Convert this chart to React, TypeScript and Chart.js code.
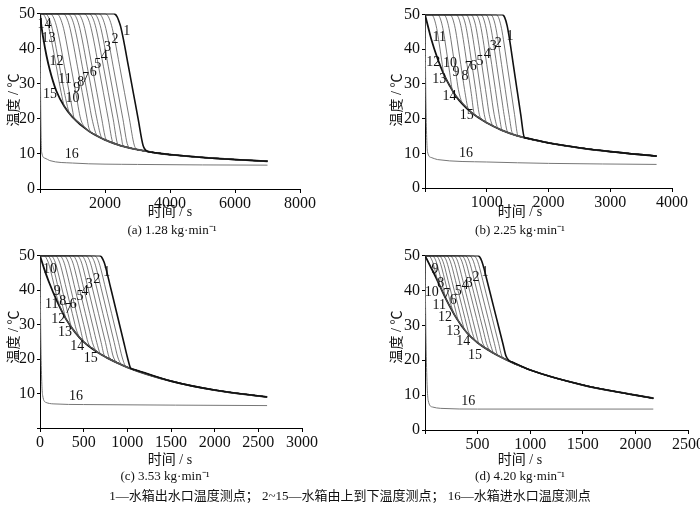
import React, { useEffect, useRef } from "react";
import { Chart, registerables } from "chart.js";
Chart.register(...registerables);

// ---- data ----
// envelope (curve 15) [time s, temperature ℃]
const envA: number[][] = [[0,50],[50,46],[100,43],[200,38],[300,34],[500,28],[750,23.5],[1000,20.5],[1500,16.5],[2000,14],[2500,12.3],[3000,11.2],[3500,10.4],[4000,9.8],[5000,9],[6000,8.4],[7000,7.9]];
const envB: number[][] = [[0,50],[50,46.5],[100,43],[200,37.5],[300,33],[400,29.5],[500,26.5],[750,21.8],[1000,18.8],[1250,16.6],[1500,15],[2000,13],[2500,11.6],[3000,10.5],[3750,9.2]];
const envC: number[][] = [[0,50],[50,46],[100,42.5],[200,36.5],[300,31.5],[400,27.8],[500,25],[700,21.3],[1000,17.6],[1500,13.6],[2000,11],[2600,9]];
const envD: number[][] = [[0,50],[50,47],[100,44],[200,37.5],[300,32],[400,27.8],[500,25],[700,21.2],[1000,17.2],[1500,12.9],[2000,10],[2170,9.1]];
// curve 16 (inlet)
const inA: number[][] = [[0,50],[20,25],[50,10.5],[150,8.8],[300,8.1],[1000,7.4],[3000,7],[7000,6.8]];
const inB: number[][] = [[0,50],[15,25],[40,10.5],[100,8.8],[200,8.2],[1000,7.5],[2000,7.1],[3750,6.8]];
const inC: number[][] = [[0,50],[10,25],[30,9.5],[70,7.4],[150,7],[500,6.8],[2600,6.5]];
const inD: number[][] = [[0,50],[10,25],[30,8.5],[70,6.6],[150,6.2],[500,6],[2170,6]];
// departure time (s) of curves 1..14 from the 50 ℃ plateau
const departA = [2270, 2000, 1800, 1650, 1500, 1350, 1150, 1000, 850, 700, 500, 300, 150, 50];
const departB = [1250, 1150, 1060, 980, 900, 820, 740, 660, 580, 500, 400, 300, 200, 100];
const departC = [680, 620, 570, 520, 470, 420, 370, 320, 270, 220, 170, 120, 80, 40];
const departD = [500, 460, 420, 380, 345, 310, 270, 235, 200, 165, 130, 100, 65, 30];
// label positions [text, time, temperature]
const labA: [string, number, number][] = [["1",2667,44.9],["2",2308,42.8],["3",2080,40.3],["4",1980,37.8],["5",1775,35.5],["6",1640,33.4],["7",1400,31.6],["8",1250,30.3],["9",1130,28.6],["10",1000,25.8],["11",770,31.2],["12",510,36.5],["13",260,43],["14",140,47],["15",310,26.9],["16",975,9.8]];
const labB: [string, number, number][] = [["1",1376,43.7],["2",1188,41.6],["3",1106,40.9],["4",1010,38.6],["5",891,36.4],["6",783,35.2],["7",702,34.8],["8",648,32.3],["9",502,33.4],["10",405,36],["11",232,43.5],["12",135,36.2],["13",232,31.4],["14",395,26.5],["15",675,20.9],["16",664,10]];
const labC: [string, number, number][] = [["1",764,45.1],["2",649,43],["3",565,41.8],["4",515,39.7],["5",458,38.3],["6",382,35.9],["7",324,34.5],["8",260,36.6],["9",198,39.7],["10",115,46],["11",134,35.9],["12",210,31.4],["13",286,27.8],["14",427,23.6],["15",581,20.3],["16",412,9.1]];
const labD: [string, number, number][] = [["1",570,45.1],["2",485,43.7],["3",421,42.1],["4",380,41.4],["5",317,39.8],["6",269,37.3],["7",206,38.8],["8",149,42],["9",95,46],["10",64,39.5],["11",136,35.8],["12",190,32.4],["13",269,28.3],["14",364,25.3],["15",475,21.4],["16",412,8.2]];

type P = { env: number[][]; inlet: number[][]; depart: number[]; rate: number; w: number; labels: [string, number, number][];
  xmax: number; step: number; hideX0: boolean; hideY0: boolean; box: [number, number, number, number] };

const panels: P[] = [
  { env: envA, inlet: inA, depart: departA, rate: 0.05, w: 300, labels: labA, xmax: 8000, step: 1000, hideX0: true, hideY0: false, box: [40, 10, 300, 189] },
  { env: envB, inlet: inB, depart: departB, rate: 0.12, w: 120, labels: labB, xmax: 4000, step: 500, hideX0: true, hideY0: false, box: [425, 11, 672, 188] },
  { env: envC, inlet: inC, depart: departC, rate: 0.105, w: 80, labels: labC, xmax: 3000, step: 500, hideX0: false, hideY0: true, box: [40, 252, 302, 428] },
  { env: envD, inlet: inD, depart: departD, rate: 0.12, w: 60, labels: labD, xmax: 2500, step: 500, hideX0: true, hideY0: false, box: [425, 252, 688, 430] },
];

function envAt(env: number[][], t: number) {
  for (let i = 1; i < env.length; i++) {
    if (t <= env[i][0]) {
      const [t0, y0] = env[i - 1], [t1, y1] = env[i];
      return y0 + ((y1 - y0) * (t - t0)) / (t1 - t0);
    }
  }
  return env[env.length - 1][1];
}

function curve(p: P, d: number) {
  const drop = (t: number) => {
    if (t <= d) return 50;
    const u = t - d;
    if (u < p.w) return 50 - (p.rate * u * u) / (2 * p.w);
    return 50 - (p.rate * p.w) / 2 - p.rate * (u - p.w);
  };
  const ts = new Set<number>(p.env.map((e) => e[0]));
  [d, d + p.w / 3, d + (2 * p.w) / 3, d + p.w].forEach((t) => ts.add(t));
  const tEnd = p.env[p.env.length - 1][0];
  for (let k = 1; k < 12; k++) ts.add(d + p.w + (k * p.w) / 2);
  const arr = Array.from(ts).filter((t) => t <= tEnd).sort((a, b) => a - b);
  const pts = arr.map((t) => ({ x: t, y: Math.max(envAt(p.env, t), drop(t)) }));
  // drop redundant envelope points after joining except keep envelope ones
  return pts;
}

const serif = "'Liberation Serif', 'Noto Sans CJK SC', serif";

function Panel({ p }: { p: P }) {
  const ref = useRef<HTMLCanvasElement>(null);
  const [l, t, r, b] = p.box;
  const W = r - l + 40 + 20, H = b - t + 8 + 30;
  useEffect(() => {
    const datasets: any[] = [];
    p.depart.forEach((d, i) => {
      datasets.push({ data: curve(p, d), borderColor: i === 0 ? "#111" : "#555", borderWidth: i === 0 ? 1.6 : 0.8 });
    });
    datasets.push({ data: p.env.map((e) => ({ x: e[0], y: e[1] })), borderColor: "#111", borderWidth: 1.8 });
    datasets.push({ data: p.inlet.map((e) => ({ x: e[0], y: e[1] })), borderColor: "#777", borderWidth: 1 });
    datasets.forEach((ds) => { ds.pointRadius = 0; ds.fill = false; ds.cubicInterpolationMode = "monotone"; });
    const labelPlugin = {
      id: "labs",
      afterDatasetsDraw(chart: any) {
        const ctx = chart.ctx, xs = chart.scales.x, ys = chart.scales.y;
        ctx.save();
        ctx.font = "14px " + serif;
        ctx.fillStyle = "#111";
        ctx.textAlign = "center";
        ctx.textBaseline = "middle";
        p.labels.forEach(([s, x, y]) => ctx.fillText(s, xs.getPixelForValue(x), ys.getPixelForValue(y)));
        ctx.restore();
      },
    };
    const ch = new Chart(ref.current!, {
      type: "line",
      data: { datasets },
      plugins: [labelPlugin],
      options: {
        animation: false, responsive: false, maintainAspectRatio: false,
        layout: { padding: { top: 8, right: 20, left: 0, bottom: 0 } },
        plugins: { legend: { display: false }, tooltip: { enabled: false } },
        scales: {
          x: {
            type: "linear", min: 0, max: p.xmax,
            afterFit: (s: any) => { s.height = 30; },
            border: { color: "#000", width: 1 },
            grid: { drawOnChartArea: false, color: "#000", tickLength: 4 },
            ticks: { stepSize: p.step, color: "#111", font: { family: serif, size: 16 }, maxRotation: 0, padding: 1,
              callback: (v: any) => (p.hideX0 && v === 0 ? "" : String(v)) },
          },
          y: {
            min: 0, max: 50,
            afterFit: (s: any) => { s.width = 40; },
            border: { color: "#000", width: 1 },
            grid: { drawOnChartArea: false, color: "#000", tickLength: 3 },
            ticks: { stepSize: 10, color: "#111", font: { family: serif, size: 16 }, padding: 2,
              callback: (v: any) => (p.hideY0 && v === 0 ? "" : String(v)) },
          },
        },
      } as any,
    });
    return () => ch.destroy();
  }, []);
  return <canvas ref={ref} width={W} height={H} style={{ position: "absolute", left: l - 40, top: t - 8, width: W, height: H }} />;
}

const captions = ["(a)  1.28 kg·min⁻¹", "(b)  2.25 kg·min⁻¹", "(c)  3.53 kg·min⁻¹", "(d)  4.20 kg·min⁻¹"];
const capPos = [[172, 229], [520, 229], [165, 475], [520, 475]];
const xTitlePos = [[170, 210], [520, 210], [170, 458], [520, 458]];
const yTitlePos = [[12, 100], [395, 100], [12, 337], [395, 337]];

export default function App() {
  const txt = (s: string, x: number, y: number, extra: any = {}) => (
    <div style={{ position: "absolute", left: x, top: y, transform: "translate(-50%,-50%)", whiteSpace: "nowrap", fontFamily: serif, fontSize: 14, color: "#111", ...extra }}>{s}</div>
  );
  return (
    <div style={{ position: "absolute", left: 0, top: 0, width: 700, height: 508, background: "#fff", overflow: "hidden" }}>
      {panels.map((p, i) => <Panel key={i} p={p} />)}
      {xTitlePos.map(([x, y], i) => <React.Fragment key={"x" + i}>{txt("时间 / s", x, y)}</React.Fragment>)}
      {yTitlePos.map(([x, y], i) => <React.Fragment key={"y" + i}>{txt("温度 / ℃", x, y, { transform: "translate(-50%,-50%) rotate(-90deg)" })}</React.Fragment>)}
      {captions.map((c, i) => <React.Fragment key={"c" + i}>{txt(c, capPos[i][0], capPos[i][1], { fontSize: 13 })}</React.Fragment>)}
      {txt("1—水箱出水口温度测点；    2~15—水箱由上到下温度测点；    16—水箱进水口温度测点", 350, 494, { fontSize: 13 })}
    </div>
  );
}
